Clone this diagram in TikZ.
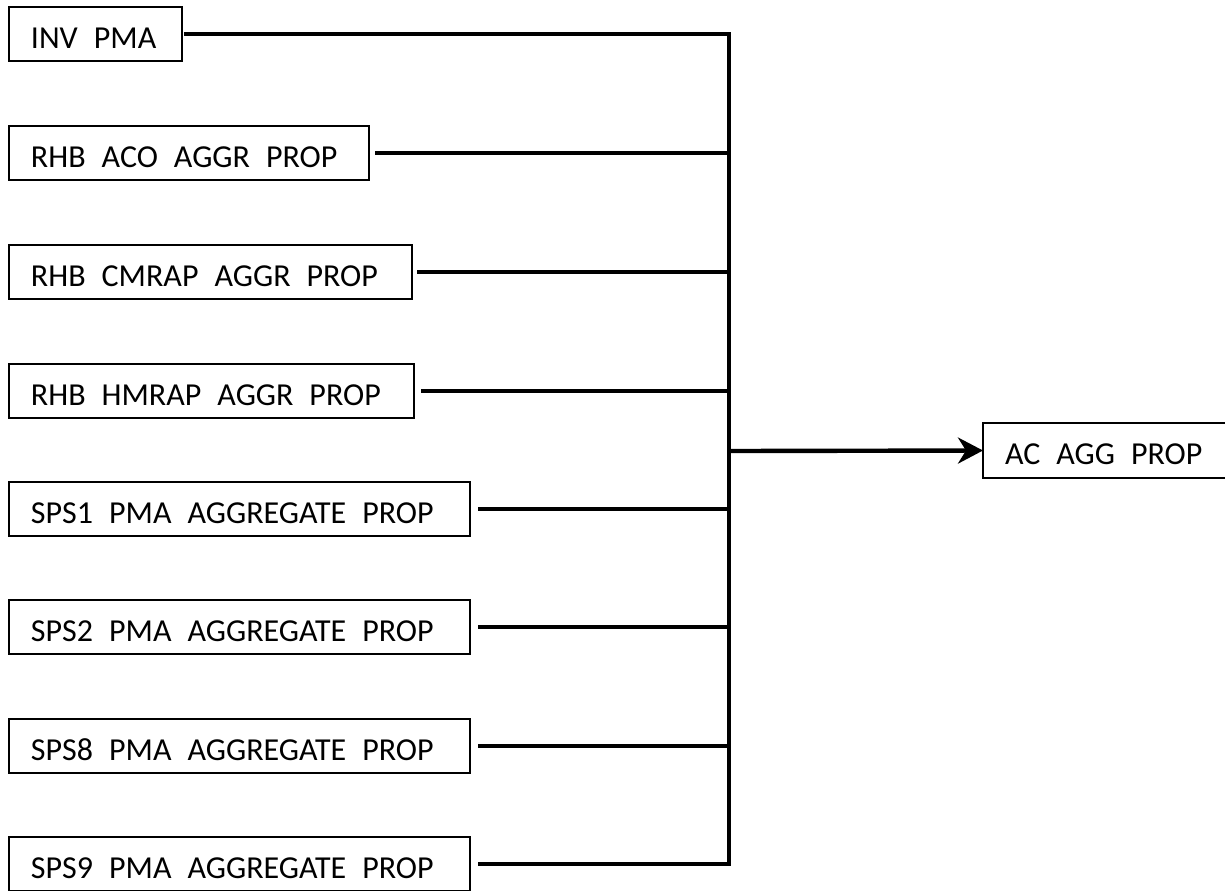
\documentclass[tikz,border=0pt]{standalone}
\usepackage{fontspec}
\setmainfont{Carlito}
\usetikzlibrary{arrows.meta}
\newcommand{\boxtext}[2]{\makebox[#1][l]{\hspace{11pt}\raisebox{-3pt}[11pt][3pt]{#2}}}
\newcommand{\gap}{\hspace{8pt}}
\tikzset{
  box/.style={draw, line width=0.75pt, anchor=north west, minimum height=27pt,
    inner xsep=0pt, inner ysep=0pt, outer sep=0pt, font=\fontsize{16pt}{19pt}\selectfont},
  conn/.style={line width=2.2pt, line join=miter},
}
\begin{document}
\begin{tikzpicture}[x=0.5pt,y=-0.5pt]
\useasboundingbox (0,0) rectangle (1225,890);
\node[box] (b1) at (9,7)   {\boxtext{86.5pt}{INV\gap PMA}};
\node[box] (b2) at (9,126) {\boxtext{180pt}{RHB\gap ACO\gap AGGR\gap PROP}};
\node[box] (b3) at (9,245) {\boxtext{201.5pt}{RHB\gap CMRAP\gap AGGR\gap PROP}};
\node[box] (b4) at (9,364) {\boxtext{202.5pt}{RHB\gap HMRAP\gap AGGR\gap PROP}};
\node[box] (b5) at (9,482) {\boxtext{230.5pt}{SPS1\gap PMA\gap AGGREGATE\gap PROP}};
\node[box] (b6) at (9,600) {\boxtext{230.5pt}{SPS2\gap PMA\gap AGGREGATE\gap PROP}};
\node[box] (b7) at (9,719) {\boxtext{230.5pt}{SPS8\gap PMA\gap AGGREGATE\gap PROP}};
\node[box] (b8) at (9,837) {\boxtext{230.5pt}{SPS9\gap PMA\gap AGGREGATE\gap PROP}};
\node[box, minimum height=27.5pt] (t) at (983,423) {\boxtext{140pt}{AC\gap AGG\gap PROP}};
\coordinate (j1) at (729,34);
\coordinate (j2) at (729,153);
\coordinate (j3) at (729,272);
\coordinate (j4) at (729,391);
\coordinate (j5) at (729,509);
\coordinate (j6) at (729,627);
\coordinate (j7) at (729,746);
\coordinate (j8) at (729,864);
\coordinate (jm) at (729,451);
\draw[conn] ([xshift=1pt]b1.east) -- (j1) -- (j8) -- ([xshift=4pt]b8.east);
\draw[conn] ([xshift=3pt]b2.east) -- (j2);
\draw[conn] ([xshift=2.5pt]b3.east) -- (j3);
\draw[conn] ([xshift=3.5pt]b4.east) -- (j4);
\draw[conn] ([xshift=4pt]b5.east) -- (j5);
\draw[conn] ([xshift=4pt]b6.east) -- (j6);
\draw[conn] ([xshift=4pt]b7.east) -- (j7);
\draw[conn, -{Stealth[length=12.5pt, width=13pt, inset=4pt]}] (jm) -- (t.west);
\end{tikzpicture}
\end{document}
